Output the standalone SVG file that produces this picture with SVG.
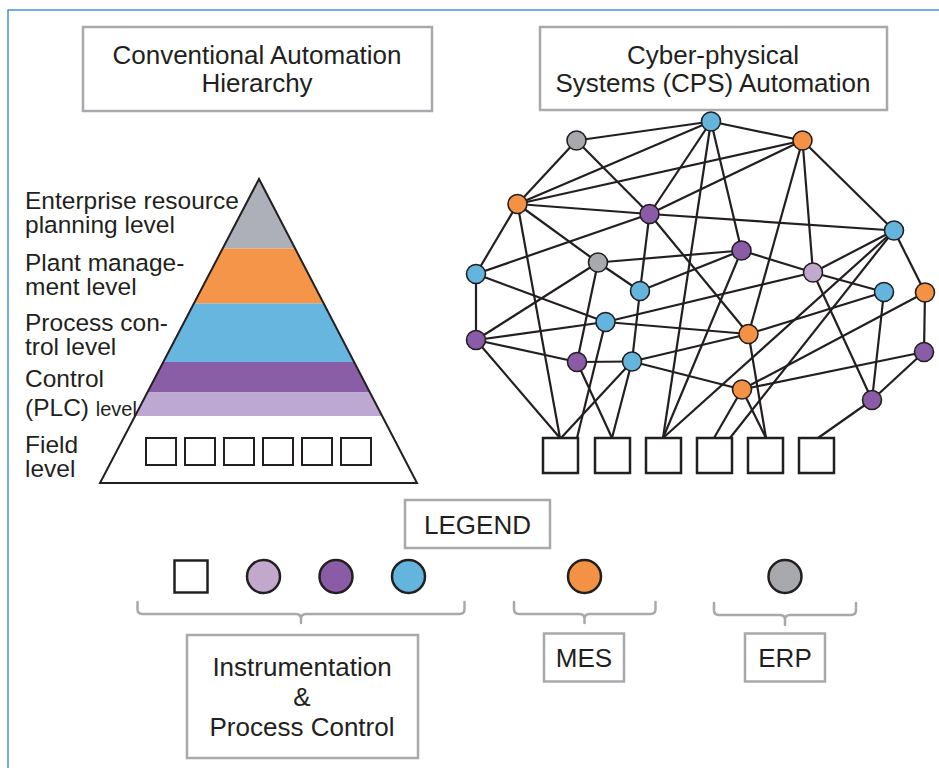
<svg xmlns="http://www.w3.org/2000/svg" width="939" height="768" viewBox="0 0 939 768">
<defs>
<style>
.t{font-family:"Liberation Sans",Arial,sans-serif;fill:#231f20}
.t26{font-size:26px;text-anchor:middle}
.lbl{font-size:24.5px}
.box{fill:#fff;stroke:#a7a9ac;stroke-width:2.5}
.brk{fill:none;stroke:#a7a9ac;stroke-width:2.5;stroke-linecap:round;stroke-linejoin:round}
.e{stroke:#231f20;stroke-width:2.2;fill:none}
.n{stroke:#231f20;stroke-width:1.6}
.sq{fill:#fff;stroke:#231f20;stroke-width:2.5}
.lg{stroke:#231f20;stroke-width:2.5}
.gr{fill:#a7a9ac}.bl{fill:#63b5de}.or{fill:#f39244}.pu{fill:#8a5ca7}.li{fill:#c2a8cc}
</style>
<clipPath id="tri"><polygon points="259,179 100,483 417,483"/></clipPath>
</defs>
<rect width="939" height="768" fill="#fff"/>
<path d="M8,768 V10 H939" fill="none" stroke="#4a8fd6" stroke-width="1.5"/>

<g id="title-conventional">
<rect class="box" x="83" y="27" width="349" height="84"/>
<text class="t t26" x="257" y="64">Conventional Automation</text>
<text class="t t26" x="257" y="92">Hierarchy</text>
</g>
<g id="title-cps">
<rect class="box" x="540" y="27" width="347" height="83"/>
<text class="t t26" x="713" y="64">Cyber-physical</text>
<text class="t t26" x="713" y="92">Systems (CPS) Automation</text>
</g>

<g id="pyramid">
<g clip-path="url(#tri)">
<rect x="90" y="170" width="340" height="78.5" fill="#aeb0b9"/>
<rect x="90" y="248.5" width="340" height="55" fill="#f5954a"/>
<rect x="90" y="303.5" width="340" height="58.5" fill="#66b6e0"/>
<rect x="90" y="362" width="340" height="30.5" fill="#8a5ea6"/>
<rect x="90" y="392.5" width="340" height="23.5" fill="#bca8d0"/>
</g>
<polygon points="259,179 100,483 417,483" fill="none" stroke="#231f20" stroke-width="2"/>
<g fill="#fff" stroke="#231f20" stroke-width="2">
<rect x="146" y="438" width="30" height="27"/>
<rect x="185" y="438" width="30" height="27"/>
<rect x="224" y="438" width="30" height="27"/>
<rect x="263" y="438" width="30" height="27"/>
<rect x="302" y="438" width="30" height="27"/>
<rect x="341" y="438" width="30" height="27"/>
</g>
</g>
<g id="pyramid-labels">
<text class="t lbl" x="25" y="209">Enterprise resource</text>
<text class="t lbl" x="25" y="233">planning level</text>
<text class="t lbl" x="25" y="271">Plant manage-</text>
<text class="t lbl" x="25" y="295">ment level</text>
<text class="t lbl" x="25" y="331">Process con-</text>
<text class="t lbl" x="25" y="355">trol level</text>
<text class="t lbl" x="25" y="387">Control</text>
<text class="t lbl" x="25" y="416">(PLC) <tspan font-size="20">level</tspan></text>
<text class="t lbl" x="25" y="453">Field</text>
<text class="t lbl" x="25" y="477">level</text>
</g>

<g id="connectors">
<line class="e" x1="576.5" y1="140.5" x2="711" y2="121.5"/>
<line class="e" x1="576.5" y1="140.5" x2="517.5" y2="204"/>
<line class="e" x1="576.5" y1="140.5" x2="649.5" y2="214"/>
<line class="e" x1="711" y1="121.5" x2="802.5" y2="140.5"/>
<line class="e" x1="711" y1="121.5" x2="517.5" y2="204"/>
<line class="e" x1="711" y1="121.5" x2="649.5" y2="214"/>
<line class="e" x1="711" y1="121.5" x2="741.5" y2="250.5"/>
<line class="e" x1="711" y1="121.5" x2="663" y2="438"/>
<line class="e" x1="802.5" y1="140.5" x2="517.5" y2="204"/>
<line class="e" x1="802.5" y1="140.5" x2="649.5" y2="214"/>
<line class="e" x1="802.5" y1="140.5" x2="894" y2="230.5"/>
<line class="e" x1="802.5" y1="140.5" x2="813" y2="272.5"/>
<line class="e" x1="802.5" y1="140.5" x2="748.5" y2="334"/>
<line class="e" x1="517.5" y1="204" x2="649.5" y2="214"/>
<line class="e" x1="517.5" y1="204" x2="598" y2="262.5"/>
<line class="e" x1="517.5" y1="204" x2="476" y2="274"/>
<line class="e" x1="517.5" y1="204" x2="560" y2="438"/>
<line class="e" x1="649.5" y1="214" x2="894" y2="230.5"/>
<line class="e" x1="649.5" y1="214" x2="476" y2="274"/>
<line class="e" x1="649.5" y1="214" x2="640" y2="291"/>
<line class="e" x1="649.5" y1="214" x2="748.5" y2="334"/>
<line class="e" x1="894" y1="230.5" x2="813" y2="272.5"/>
<line class="e" x1="894" y1="230.5" x2="925" y2="292.5"/>
<line class="e" x1="894" y1="230.5" x2="663" y2="438"/>
<line class="e" x1="894" y1="230.5" x2="730" y2="438"/>
<line class="e" x1="741.5" y1="250.5" x2="598" y2="262.5"/>
<line class="e" x1="741.5" y1="250.5" x2="813" y2="272.5"/>
<line class="e" x1="741.5" y1="250.5" x2="640" y2="291"/>
<line class="e" x1="741.5" y1="250.5" x2="663" y2="438"/>
<line class="e" x1="598" y1="262.5" x2="640" y2="291"/>
<line class="e" x1="598" y1="262.5" x2="476" y2="340"/>
<line class="e" x1="598" y1="262.5" x2="577" y2="362"/>
<line class="e" x1="476" y1="274" x2="605.5" y2="322"/>
<line class="e" x1="476" y1="274" x2="476" y2="340"/>
<line class="e" x1="813" y1="272.5" x2="884" y2="292"/>
<line class="e" x1="813" y1="272.5" x2="605.5" y2="322"/>
<line class="e" x1="813" y1="272.5" x2="872" y2="400"/>
<line class="e" x1="640" y1="291" x2="632" y2="361.5"/>
<line class="e" x1="884" y1="292" x2="748.5" y2="334"/>
<line class="e" x1="884" y1="292" x2="872" y2="400"/>
<line class="e" x1="925" y1="292.5" x2="924" y2="352"/>
<line class="e" x1="925" y1="292.5" x2="742" y2="389.5"/>
<line class="e" x1="605.5" y1="322" x2="748.5" y2="334"/>
<line class="e" x1="605.5" y1="322" x2="476" y2="340"/>
<line class="e" x1="605.5" y1="322" x2="577" y2="438"/>
<line class="e" x1="748.5" y1="334" x2="632" y2="361.5"/>
<line class="e" x1="748.5" y1="334" x2="766" y2="438"/>
<line class="e" x1="476" y1="340" x2="577" y2="362"/>
<line class="e" x1="476" y1="340" x2="560" y2="438"/>
<line class="e" x1="924" y1="352" x2="742" y2="389.5"/>
<line class="e" x1="924" y1="352" x2="872" y2="400"/>
<line class="e" x1="577" y1="362" x2="632" y2="361.5"/>
<line class="e" x1="577" y1="362" x2="612" y2="438"/>
<line class="e" x1="632" y1="361.5" x2="742" y2="389.5"/>
<line class="e" x1="632" y1="361.5" x2="561" y2="438"/>
<line class="e" x1="632" y1="361.5" x2="612" y2="438"/>
<line class="e" x1="742" y1="389.5" x2="714" y2="438"/>
<line class="e" x1="742" y1="389.5" x2="766" y2="438"/>
<line class="e" x1="872" y1="400" x2="818" y2="438"/>
</g>

<g id="cps-nodes">
<circle id="n1" class="n gr" cx="576.5" cy="140.5" r="9.5"/>
<circle id="n2" class="n bl" cx="711" cy="121.5" r="9.5"/>
<circle id="n3" class="n or" cx="802.5" cy="140.5" r="9.5"/>
<circle id="n4" class="n or" cx="517.5" cy="204" r="9.5"/>
<circle id="n5" class="n pu" cx="649.5" cy="214" r="9.5"/>
<circle id="n6" class="n bl" cx="894" cy="230.5" r="9.5"/>
<circle id="n7" class="n pu" cx="741.5" cy="250.5" r="9.5"/>
<circle id="n8" class="n gr" cx="598" cy="262.5" r="9.5"/>
<circle id="n9" class="n bl" cx="476" cy="274" r="9.5"/>
<circle id="n10" class="n li" cx="813" cy="272.5" r="9.5"/>
<circle id="n11" class="n bl" cx="640" cy="291" r="9.5"/>
<circle id="n12" class="n bl" cx="884" cy="292" r="9.5"/>
<circle id="n13" class="n or" cx="925" cy="292.5" r="9.5"/>
<circle id="n14" class="n bl" cx="605.5" cy="322" r="9.5"/>
<circle id="n15" class="n or" cx="748.5" cy="334" r="9.5"/>
<circle id="n16" class="n pu" cx="476" cy="340" r="9.5"/>
<circle id="n17" class="n pu" cx="924" cy="352" r="9.5"/>
<circle id="n18" class="n pu" cx="577" cy="362" r="9.5"/>
<circle id="n19" class="n bl" cx="632" cy="361.5" r="9.5"/>
<circle id="n20" class="n or" cx="742" cy="389.5" r="9.5"/>
<circle id="n21" class="n pu" cx="872" cy="400" r="9.5"/>
</g>
<g id="cps-devices">
<rect class="sq" x="543" y="438" width="35" height="35"/>
<rect class="sq" x="595" y="438" width="35" height="35"/>
<rect class="sq" x="646" y="438" width="35" height="35"/>
<rect class="sq" x="697" y="438" width="35" height="35"/>
<rect class="sq" x="748" y="438" width="35" height="35"/>
<rect class="sq" x="799" y="438" width="35" height="35"/>
</g>

<g id="legend-title">
<rect class="box" x="405" y="500" width="145" height="48"/>
<text class="t t26" x="477.5" y="534">LEGEND</text>
</g>
<g id="legend-symbols">
<rect class="sq" x="174.5" y="560.5" width="33" height="32"/>
<circle class="lg li" cx="263.5" cy="576.5" r="16.5"/>
<circle class="lg pu" cx="336" cy="576.5" r="16.5"/>
<circle class="lg bl" cx="408.5" cy="576.5" r="16.5"/>
<circle class="lg or" cx="584.5" cy="576.5" r="16.5"/>
<circle class="lg gr" cx="785" cy="576.5" r="16.5"/>
</g>
<g id="brackets">
<path class="brk" d="M137.5,602 V609 Q137.5,614 142.5,614 H296 Q301,614 301,619 V623 M301,619 Q301,614 306,614 H459.5 Q464.5,614 464.5,609 V602"/>
<path class="brk" d="M514,602 V609 Q514,614 519,614 H579.5 Q584.5,614 584.5,619 V623 M584.5,619 Q584.5,614 589.5,614 H650.5 Q655.5,614 655.5,609 V602"/>
<path class="brk" d="M714,603 V610 Q714,615 719,615 H780 Q785,615 785,620 V625 M785,620 Q785,615 790,615 H851 Q856,615 856,610 V603"/>
</g>
<g id="legend-instrumentation">
<rect class="box" x="187" y="635" width="231" height="123"/>
<text class="t t26" x="302" y="676">Instrumentation</text>
<text class="t t26" x="302" y="706">&amp;</text>
<text class="t t26" x="302" y="736">Process Control</text>
</g>
<g id="legend-mes">
<rect class="box" x="544" y="633.5" width="80" height="48"/>
<text class="t t26" x="584" y="667">MES</text>
</g>
<g id="legend-erp">
<rect class="box" x="745" y="633.5" width="80" height="48"/>
<text class="t t26" x="785" y="667">ERP</text>
</g>
</svg>
